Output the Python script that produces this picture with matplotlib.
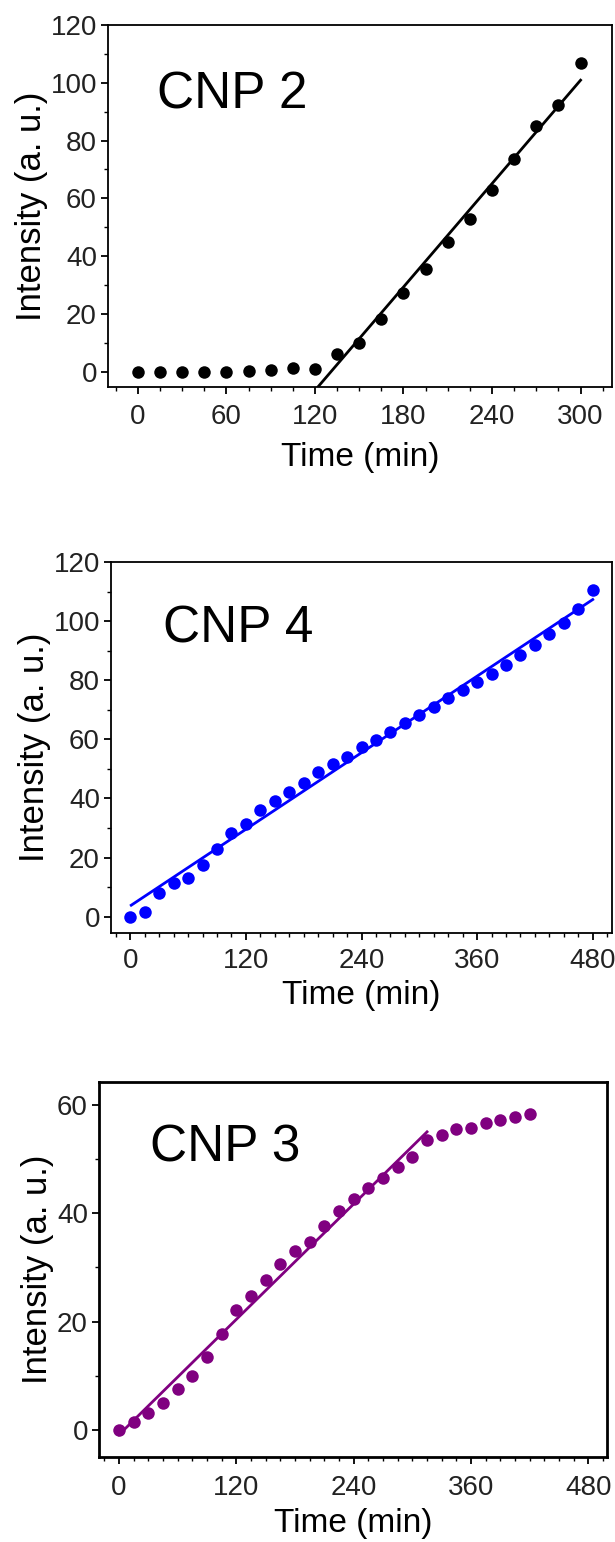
import matplotlib
matplotlib.use("Agg")
import matplotlib.pyplot as plt
from matplotlib.ticker import MultipleLocator

plt.rcParams['font.family'] = ['Liberation Sans', 'DejaVu Sans']

# ---------------- data ----------------
t_cnp2 = [0, 15, 30, 45, 60, 75, 90, 105, 120, 135, 150, 165, 180, 195, 210,
          225, 240, 255, 270, 285, 300]
i_cnp2 = [0, 0, 0, 0, 0, 0.3, 0.5, 1.2, 1.0, 6.1, 9.8, 18.1, 27.1, 35.4, 45.0,
          53.0, 62.9, 73.5, 85.0, 92.3, 106.7]
fit_cnp2_x = [122, 300]
fit_cnp2_y = [-5.3, 100.9]

t_cnp4 = [0, 15, 30, 45, 60, 75, 90, 105, 120, 135, 150, 165, 180, 195, 210,
          225, 240, 255, 270, 285, 300, 315, 330, 345, 360, 375, 390, 405,
          420, 435, 450, 465, 480]
i_cnp4 = [0, 1.7, 7.9, 11.5, 13.2, 17.5, 22.8, 28.2, 31.5, 36.0, 39.1, 42.3,
          45.3, 49.0, 51.8, 54.1, 57.5, 59.9, 62.5, 65.6, 68.2, 71.0, 74.1,
          76.6, 79.4, 82.0, 85.1, 88.5, 91.8, 95.8, 99.2, 104.2, 110.4]
fit_cnp4_x = [1, 480]
fit_cnp4_y = [3.9, 107.3]

t_cnp3 = [0, 15, 30, 45, 60, 75, 90, 105, 120, 135, 150, 165, 180, 195, 210,
          225, 240, 255, 270, 285, 300, 315, 330, 345, 360, 375, 390, 405, 420]
i_cnp3 = [0, 1.5, 3.1, 4.9, 7.5, 10.0, 13.5, 17.7, 22.2, 24.7, 27.7, 30.6,
          33.0, 34.6, 37.7, 40.4, 42.7, 44.6, 46.4, 48.5, 50.4, 53.5, 54.4,
          55.6, 55.7, 56.7, 57.1, 57.7, 58.3]
fit_cnp3_x = [0, 315]
fit_cnp3_y = [-0.9, 55.0]

labels = ["CNP 2", "CNP 4", "CNP 3"]
colors = ["black", "#0000ff", "#800080"]
xlabel = "Time (min)"
ylabel = "Intensity (a. u.)"

# ---------------- figure ----------------
W, H = 615, 1542
fig = plt.figure(figsize=(W / 100, H / 100), dpi=100)

def rect(l, r, t, b):
    return [l / W, 1 - b / H, (r - l) / W, (b - t) / H]

panels = [
    dict(rect=rect(108, 612, 25, 387), t=t_cnp2, y=i_cnp2, fx=fit_cnp2_x, fy=fit_cnp2_y,
         xlim=(-20.2, 321.3), ylim=(-5.3, 120), xmaj=60, yticks=range(0, 121, 20),
         lw_sp=1.3, lab_xy=(0.097, 0.807), xpad=7, lpad=9),
    dict(rect=rect(111, 612, 562, 933), t=t_cnp4, y=i_cnp4, fx=fit_cnp4_x, fy=fit_cnp4_y,
         xlim=(-20, 500), ylim=(-5.5, 120), xmaj=120, yticks=range(0, 121, 20),
         lw_sp=1.3, lab_xy=(0.104, 0.819), xpad=6, lpad=4),
    dict(rect=rect(99, 607, 1082, 1457), t=t_cnp3, y=i_cnp3, fx=fit_cnp3_x, fy=fit_cnp3_y,
         xlim=(-20.4, 499), ylim=(-5.0, 64.2), xmaj=120, yticks=range(0, 61, 20),
         lw_sp=2.0, lab_xy=(0.10, 0.824), xpad=8, lpad=5),
]

for p, lab, col in zip(panels, labels, colors):
    ax = fig.add_axes(p['rect'])
    ax.plot(p['t'], p['y'], linestyle='none', marker='o', markersize=9,
            color=col, markeredgewidth=0, clip_on=False, zorder=3)
    ax.plot(p['fx'], p['fy'], color=col, linewidth=2, zorder=2)
    ax.set_xlim(*p['xlim'])
    ax.set_ylim(*p['ylim'])
    ax.xaxis.set_major_locator(MultipleLocator(p['xmaj']))
    ax.xaxis.set_minor_locator(MultipleLocator(15))
    ax.set_yticks(list(p['yticks']))
    ax.yaxis.set_minor_locator(MultipleLocator(10))
    for s in ax.spines.values():
        s.set_linewidth(p['lw_sp'])
    ax.tick_params(which='major', direction='out', length=5, width=1.3,
                   labelsize=20, labelcolor='#222222', pad=3)
    ax.tick_params(axis='x', which='major', pad=p['xpad'])
    ax.tick_params(which='minor', direction='out', length=3, width=1.0)
    ax.set_xlabel(xlabel, fontsize=24, labelpad=p['lpad'])
    ax.set_ylabel(ylabel, fontsize=25, labelpad=2)
    ax.text(p['lab_xy'][0], p['lab_xy'][1], lab, transform=ax.transAxes,
            fontsize=37, ha='left', va='center')

fig.savefig("out.png", dpi=100)
